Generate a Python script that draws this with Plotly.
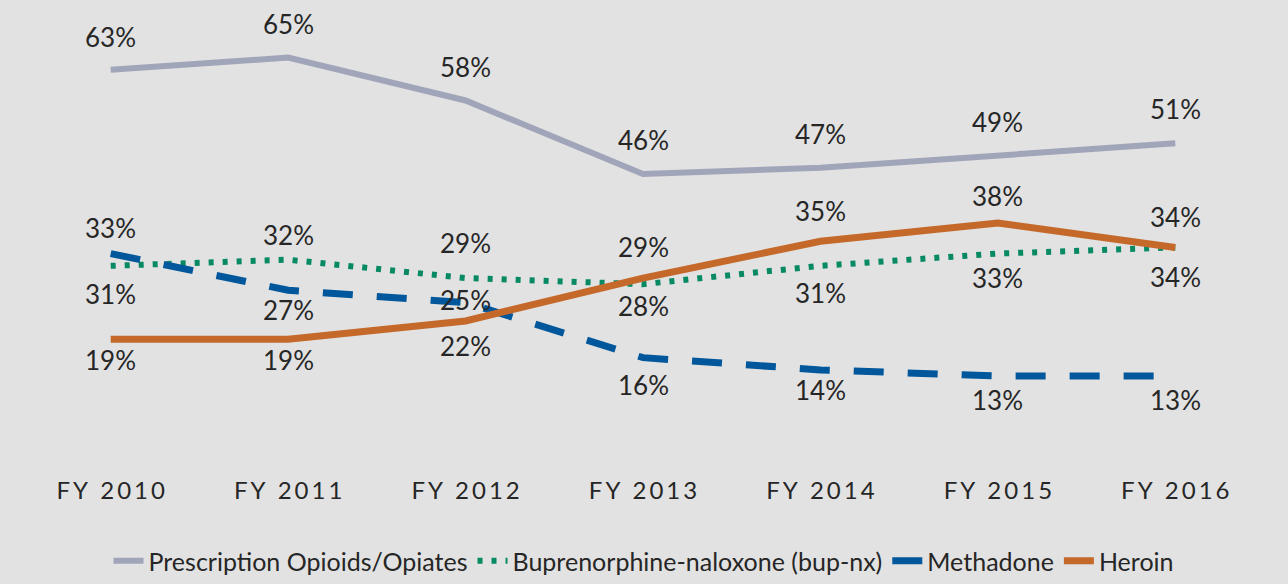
import plotly.graph_objects as go

years = ["FY 2010", "FY 2011", "FY 2012", "FY 2013", "FY 2014", "FY 2015", "FY 2016"]
prescription = [63, 65, 58, 46, 47, 49, 51]
buprenorphine = [31, 32, 29, 28, 31, 33, 34]
methadone = [33, 27, 25, 16, 14, 13, 13]
heroin = [19, 19, 22, 29, 35, 38, 34]

# label vertical offsets (pixels, positive = up)
off_presc = [33, 34, 33, 34, 34, 34, 34]
off_bup = [-28, 25, 35, -22, -27, -24, -30]
off_meth = [26, -20, 3, -27, -20, -24, -24]
off_her = [-21, -21, -25, 31, 30, 27, 30]

FONT = "Lato"
TXT = "#262626"
BG = "#e2e2e2"

series = [
    ("Prescription Opioids/Opiates", prescription, "#a0a5b9", 6, "solid", off_presc),
    ("Buprenorphine-naloxone (bup-nx)", buprenorphine, "#078a63", 6, "5px,9px", off_bup),
    ("Methadone", methadone, "#00579b", 7, "30px,24px", off_meth),
    ("Heroin", heroin, "#c5692b", 7, "solid", off_her),
]

fig = go.Figure()
annotations = []
for name, vals, color, w, dash, offs in series:
    fig.add_trace(go.Scatter(
        x=years, y=vals, mode="lines", name=name,
        line=dict(color=color, width=w, dash=dash),
        hoverinfo="skip",
    ))
    for xv, yv, o in zip(years, vals, offs):
        annotations.append(dict(
            x=xv, y=yv, xref="x", yref="y", text=f"{yv}%", showarrow=False,
            yshift=o, font=dict(family=FONT, size=26, color=TXT),
        ))

ticktext = ["\u2009".join(list(y)) for y in years]

fig.update_layout(
    width=1288, height=584,
    paper_bgcolor=BG, plot_bgcolor=BG,
    margin=dict(l=22, r=24, t=27, b=110),
    showlegend=True,
    legend=dict(
        orientation="h", x=0.5, xanchor="center", xref="container",
        y=0.0, yanchor="bottom", yref="container",
        font=dict(family=FONT, size=25, color=TXT),
        bgcolor="rgba(0,0,0,0)", itemwidth=30, tracegroupgap=0,
    ),
    annotations=annotations,
    xaxis=dict(
        type="category", tickmode="array", tickvals=years, ticktext=ticktext,
        showgrid=False, zeroline=False, showline=False, ticks="",
        tickfont=dict(family=FONT, size=24, color=TXT),
        range=[-0.5, 6.5],
    ),
    yaxis=dict(
        range=[-3, 70], showgrid=False, zeroline=False, showline=False,
        showticklabels=False, ticks="",
    ),
)

fig.write_html(
    "out.html",
    config={"displayModeBar": False},
    post_script="document.body.style.margin='0';document.body.style.background='#e2e2e2';",
)
